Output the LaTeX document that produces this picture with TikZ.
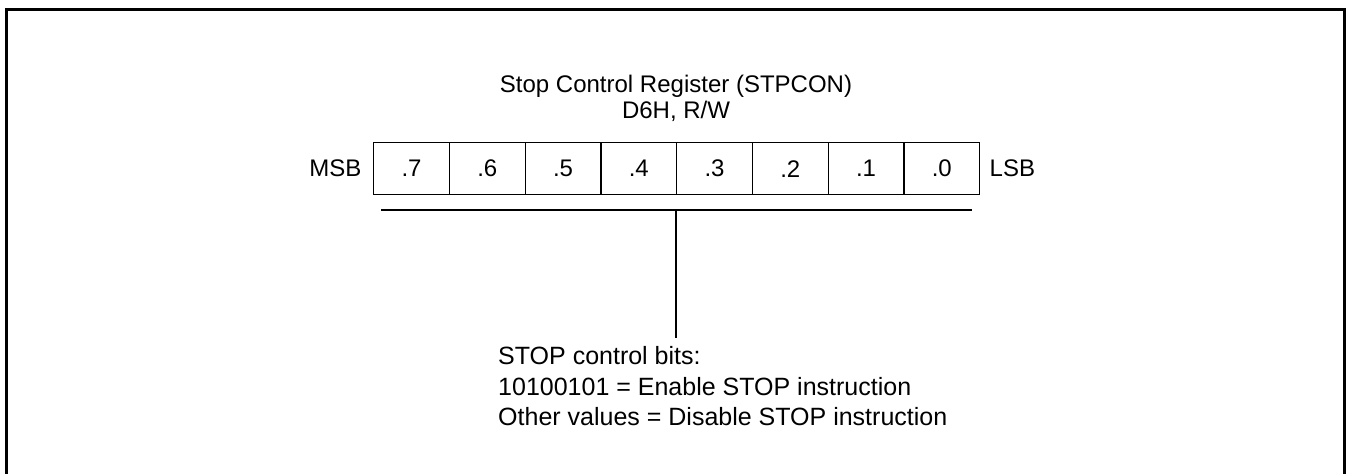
\documentclass[tikz,border=0pt]{standalone}
\usepackage{fontspec}
\setmainfont{Liberation Sans}
\begin{document}
\begin{tikzpicture}[x=1bp,y=-1bp,
  every node/.style={font=\fontsize{24bp}{28bp}\selectfont, inner sep=0pt},
  desc/.style={anchor=base west, font=\fontsize{25bp}{30bp}\selectfont},
  cell/.style={draw, line width=1.3bp, minimum width=75.75bp, minimum height=52bp, anchor=north west},
  frameline/.style={line width=3bp},
  thinline/.style={line width=1.3bp}]
\useasboundingbox (0,0) rectangle (1346,474);
\draw[frameline] (6.5,476) -- (6.5,9.3) -- (1344.5,9.3) -- (1344.5,476);
\node[anchor=base] (t1) at (676,93) {Stop Control Register (STPCON)};
\node[anchor=base] (t2) at (676,119) {D6H, R/W};
\foreach \i/\lab in {0/.7,1/.6,2/.5,3/.4,4/.3,5/.2,6/.1,7/.0}{
  \node[cell] (b\i) at ({373+\i*75.75},142) {\lab};
}
\node[anchor=east] (msb) at (361.5,168) {MSB};
\node[anchor=west] (lsb) at (989.5,168) {LSB};
\coordinate (ll) at (381,210);
\coordinate (lr) at (972,210);
\coordinate (lm) at (676,210);
\coordinate (le) at (676,338);
\draw[thinline] (ll) -- (lr);
\draw[thinline] (lm) -- (le);
\node[desc] (d1) at (498,364) {STOP control bits:};
\node[desc] (d2) at (498,395) {10100101 = Enable STOP instruction};
\node[desc] (d3) at (498,425) {Other values = Disable STOP instruction};
\end{tikzpicture}
\end{document}
